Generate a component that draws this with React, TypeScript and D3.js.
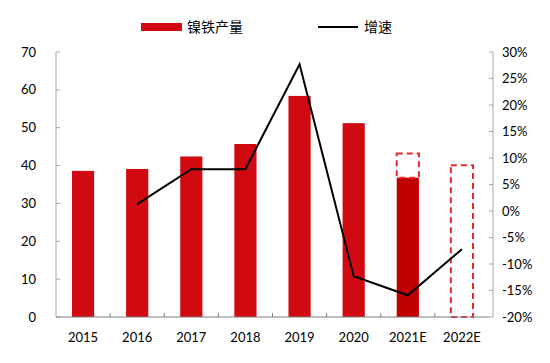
import React from 'react';
import * as d3 from 'd3';

const categories = ['2015', '2016', '2017', '2018', '2019', '2020', '2021E', '2022E'];
// 镍铁产量 (solid bars), null where only an estimate box is drawn
const output = [38.6, 39.1, 42.4, 45.7, 58.4, 51.2, 36.8, null];
// dashed estimate boxes: [bottom, top]
const estimateLow = [null, null, null, null, null, null, 36.8, 0];
const estimateHigh = [null, null, null, null, null, null, 43.2, 40.1];
// 增速 (%)
const growth = [null, 1.3, 7.9, 7.9, 27.7, -12.3, -15.9, -7.2];

const leftTicks = [0, 10, 20, 30, 40, 50, 60, 70];
const rightTicks = [-20, -15, -10, -5, 0, 5, 10, 15, 20, 25, 30];

const width = 550;
const height = 363;
const left = 56;
const right = 489;
const rightAxisX = 493;
const top = 52;
const bottom = 317;

const numFont = 'Lato, "Open Sans", sans-serif';
const cjkFont = '"Noto Sans CJK SC", sans-serif';

export default function App() {
  const x = d3.scaleBand().domain(categories).range([left, right]).padding(0);
  const y = d3.scaleLinear().domain([0, 70]).range([bottom, top]);
  const y2 = d3.scaleLinear().domain([-20, 30]).range([bottom, top]);
  const barW = x.bandwidth() * 0.41;
  const cx = (c) => (x(c) as number) + x.bandwidth() / 2;

  const linePts = categories
    .map((c, i) => ({ c, v: growth[i] }))
    .filter((d) => d.v !== null);
  const line = d3
    .line<{ c: string; v: number | null }>()
    .x((d) => cx(d.c))
    .y((d) => y2(d.v as number));

  return (
    <svg
      width={width}
      height={height}
      style={{ position: 'absolute', left: 0, top: 0, background: '#fff' }}
    >
      {/* legend */}
      <rect x={141} y={23} width={41} height={8} fill="#D10A12" />
      <text x={187} y={32} fontFamily={cjkFont} fontSize={14} fill="#000">
        镍铁产量
      </text>
      <line x1={318} x2={358} y1={27} y2={27} stroke="#000" strokeWidth={2} />
      <text x={364} y={32} fontFamily={cjkFont} fontSize={14} fill="#000">
        增速
      </text>

      {/* bars */}
      {categories.map((c, i) =>
        output[i] === null ? null : (
          <rect
            key={'b' + c}
            x={cx(c) - barW / 2}
            y={y(output[i] as number)}
            width={barW}
            height={y(0) - y(output[i] as number)}
            fill={c.endsWith('E') ? '#C00000' : '#D10A12'}
          />
        )
      )}
      {categories.map((c, i) =>
        estimateHigh[i] === null ? null : (
          <rect
            key={'e' + c}
            x={cx(c) - barW / 2}
            y={y(estimateHigh[i] as number)}
            width={barW}
            height={y(estimateLow[i] as number) - y(estimateHigh[i] as number)}
            fill="none"
            stroke="#E8262B"
            strokeWidth={2}
            strokeDasharray="6,4"
          />
        )
      )}

      {/* axes */}
      <line x1={left} x2={left} y1={top} y2={bottom} stroke="#A6A6A6" />
      {leftTicks.map((t) => (
        <g key={'l' + t}>
          <line x1={left} x2={left + 4} y1={y(t)} y2={y(t)} stroke="#A6A6A6" />
          <text
            x={36}
            y={y(t)}
            dy="0.35em"
            textAnchor="end"
            fontFamily={numFont}
            fontSize={13}
            fill="#000"
          >
            {t}
          </text>
        </g>
      ))}
      <line x1={rightAxisX} x2={rightAxisX} y1={top} y2={bottom} stroke="#A6A6A6" />
      {rightTicks.map((t) => (
        <g key={'r' + t}>
          <line
            x1={rightAxisX - 4}
            x2={rightAxisX}
            y1={y2(t)}
            y2={y2(t)}
            stroke="#A6A6A6"
          />
          <text
            x={502}
            y={y2(t)}
            dy="0.35em"
            fontFamily={numFont}
            fontSize={13}
            fill="#000"
          >
            {t}%
          </text>
        </g>
      ))}
      <line x1={left} x2={right} y1={bottom} y2={bottom} stroke="#7F7F7F" />
      {categories.map((c, i) => (
        <g key={'x' + c}>
          {i > 0 && (
            <line
              x1={x(c)}
              x2={x(c)}
              y1={bottom}
              y2={bottom - 4}
              stroke="#7F7F7F"
            />
          )}
          <text
            x={cx(c)}
            y={337}
            dy="0.35em"
            textAnchor="middle"
            fontFamily={numFont}
            fontSize={13}
            fill="#000"
          >
            {c}
          </text>
        </g>
      ))}

      {/* growth line */}
      <path d={line(linePts) || ''} fill="none" stroke="#000" strokeWidth={2} />
    </svg>
  );
}
